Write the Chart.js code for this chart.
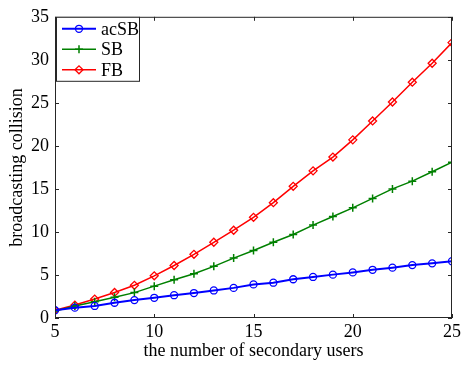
<!DOCTYPE html>
<html>
<head>
<meta charset="utf-8">
<script src="https://cdn.jsdelivr.net/npm/chart.js@4"></script>
<style>
  html, body { margin: 0; padding: 0; background: #fff; }
  #wrap { width: 464px; height: 365px; }
</style>
</head>
<body>
<div id="wrap"><canvas id="collisionChart" width="464" height="365"></canvas></div>
<script>
// numero de usuarios secundarios
var users = [5, 6, 7, 8, 9, 10, 11, 12, 13, 14, 15, 16, 17, 18, 19, 20, 21, 22, 23, 24, 25];
var acSB = [0.9, 1.2, 1.4, 1.77, 2.08, 2.35, 2.65, 2.9, 3.2, 3.5, 3.9, 4.1, 4.5, 4.77, 5.04, 5.3, 5.6, 5.85, 6.15, 6.35, 6.6];
var SB = [0.8, 1.4, 1.9, 2.4, 2.95, 3.7, 4.45, 5.15, 6.0, 6.96, 7.85, 8.8, 9.7, 10.8, 11.8, 12.8, 13.9, 15.0, 15.9, 17.0, 18.1];
var FB = [0.9, 1.5, 2.2, 2.97, 3.8, 4.9, 6.1, 7.4, 8.8, 10.2, 11.7, 13.4, 15.3, 17.1, 18.7, 20.7, 22.9, 25.1, 27.4, 29.6, 32.0];
var xTicks = [5, 10, 15, 20, 25];
var yTicks = [0, 5, 10, 15, 20, 25, 30, 35];

var serif = '"Liberation Serif", "Times New Roman", serif';

function toPoints(values) {
    return values.map(function(v, i) { return { x: users[i], y: v }; });
}

// ticks hacia adentro, caja y leyenda estilo MATLAB
var matlabFrame = {
    id: 'matlabFrame',
    afterDatasetsDraw: function(chart) {
        var ctx = chart.ctx;
        var a = chart.chartArea;
        var sx = chart.scales.x, sy = chart.scales.y;
        ctx.save();
        ctx.strokeStyle = '#262626';
        ctx.lineWidth = 1;
        ctx.strokeRect(a.left + 0.5, a.top + 0.5, a.right - a.left - 1, a.bottom - a.top - 1);
        ctx.beginPath();
        xTicks.forEach(function(t) {
            var px = Math.round(sx.getPixelForValue(t)) + 0.5;
            ctx.moveTo(px, a.bottom); ctx.lineTo(px, a.bottom - 4);
            ctx.moveTo(px, a.top); ctx.lineTo(px, a.top + 4);
        });
        yTicks.forEach(function(t) {
            var py = Math.round(sy.getPixelForValue(t)) + 0.5;
            ctx.moveTo(a.left, py); ctx.lineTo(a.left + 4, py);
            ctx.moveTo(a.right, py); ctx.lineTo(a.right - 4, py);
        });
        ctx.stroke();

        // leyenda
        var bx = a.left + 1, by = a.top, bw = 83, bh = 64;
        ctx.fillStyle = '#fff';
        ctx.fillRect(bx, by, bw, bh);
        ctx.strokeStyle = '#262626';
        ctx.strokeRect(bx + 0.5, by + 0.5, bw, bh);
        ctx.font = '18px ' + serif;
        ctx.textBaseline = 'middle';
        chart.data.datasets.forEach(function(ds, i) {
            var ly = by + 12 + i * 20.5;
            ctx.strokeStyle = ds.borderColor;
            ctx.lineWidth = ds.borderWidth;
            ctx.beginPath();
            ctx.moveTo(bx + 6, ly); ctx.lineTo(bx + 40, ly);
            ctx.stroke();
            ctx.fillStyle = 'rgba(0,0,0,0)';
            ctx.lineWidth = ds.pointBorderWidth;
            Chart.helpers.drawPoint(ctx, {
                pointStyle: ds.pointStyle,
                radius: ds.pointRadius,
                borderWidth: ds.pointBorderWidth
            }, bx + 23, ly);
            ctx.fillStyle = '#000';
            ctx.fillText(ds.label, bx + 45, ly + 1);
        });
        ctx.restore();
    }
};

var ctx = document.getElementById('collisionChart').getContext('2d');
new Chart(ctx, {
    type: 'line',
    data: {
        datasets: [{
            label: 'acSB',
            data: toPoints(acSB),
            borderColor: '#0000ff',
            borderWidth: 2,
            pointStyle: 'circle',
            pointRadius: 3.5,
            pointBorderWidth: 1.3,
            pointBorderColor: '#0000ff',
            pointBackgroundColor: 'rgba(0,0,0,0)'
        }, {
            label: 'SB',
            data: toPoints(SB),
            borderColor: '#008000',
            borderWidth: 1.5,
            pointStyle: 'cross',
            pointRadius: 4,
            pointBorderWidth: 1.5,
            pointBorderColor: '#008000',
            pointBackgroundColor: 'rgba(0,0,0,0)'
        }, {
            label: 'FB',
            data: toPoints(FB),
            borderColor: '#ff0000',
            borderWidth: 1.5,
            pointStyle: 'rectRot',
            pointRadius: 4,
            pointBorderWidth: 1.3,
            pointBorderColor: '#ff0000',
            pointBackgroundColor: 'rgba(0,0,0,0)'
        }]
    },
    options: {
        responsive: false,
        animation: false,
        layout: { padding: { top: 15, right: 10, left: 6, bottom: 0 } },
        plugins: {
            legend: { display: false },
            tooltip: { enabled: false }
        },
        scales: {
            x: {
                type: 'linear',
                min: 5,
                max: 25,
                afterBuildTicks: function(s) { s.ticks = xTicks.map(function(v) { return { value: v }; }); },
                afterFit: function(s) { s.height = 47; },
                grid: { display: false, drawTicks: false },
                border: { display: false },
                ticks: { color: '#000', padding: 3, font: { family: serif, size: 18 } },
                title: {
                    display: true,
                    text: 'the number of secondary users',
                    color: '#000',
                    padding: { top: 0, bottom: 3 },
                    font: { family: serif, size: 18 }
                }
            },
            y: {
                min: 0,
                max: 35,
                afterBuildTicks: function(s) { s.ticks = yTicks.map(function(v) { return { value: v }; }); },
                afterFit: function(s) { s.width = 49; },
                grid: { display: false, drawTicks: false },
                border: { display: false },
                ticks: { color: '#000', padding: 6, font: { family: serif, size: 18 } },
                title: {
                    display: true,
                    text: 'broadcasting collision',
                    color: '#000',
                    padding: { top: 0, bottom: 0 },
                    font: { family: serif, size: 18 }
                }
            }
        }
    },
    plugins: [matlabFrame]
});
</script>
</body>
</html>
